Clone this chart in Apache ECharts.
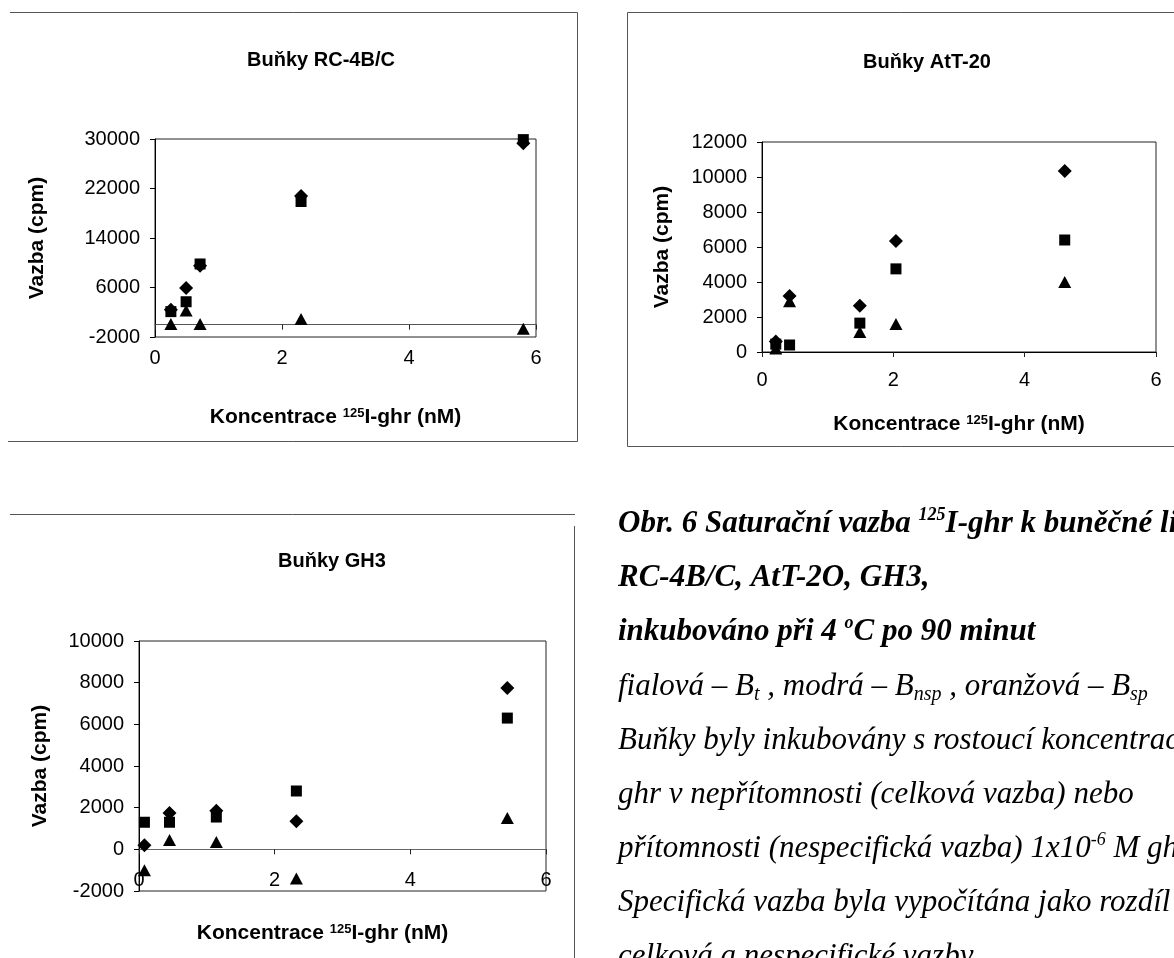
<!DOCTYPE html>
<html><head><meta charset="utf-8">
<script src="https://cdn.jsdelivr.net/npm/echarts@6/dist/echarts.min.js"></script>
<style>html,body{margin:0;padding:0;background:#fff}#c{width:1174px;height:958px}</style>
</head><body><div id="c"></div>
<script>
// ---- tick labels ----
const xTicks = [0, 2, 4, 6];
const rcTicksY = [-2000, 6000, 14000, 22000, 30000];
const attTicksY = [0, 2000, 4000, 6000, 8000, 10000, 12000];
const gh3TicksY = [-2000, 0, 2000, 4000, 6000, 8000, 10000];

// ---- RC-4B/C ----
const rcConc = [0.25, 0.49, 0.71, 2.3, 5.8];
const rcBt   = [2400, 5900, 9500, 20800, 29300];
const rcBnsp = [2100, 3700, 9800, 19900, 29900];
const rcBsp  = [100, 2300, 100, 900, -650];

// ---- AtT-20 ----
const attConc = [0.21, 0.42, 1.49, 2.04, 4.61];
const attBt   = [600, 3200, 2650, 6350, 10350];
const attBnsp = [450, 400, 1650, 4750, 6400];
const attBsp  = [200, 2900, 1150, 1600, 4000];

// ---- GH3 ----
const ghConc = [0.08, 0.45, 1.14, 2.32, 5.43];
const ghBt   = [200, 1750, 1850, 1350, 7750];
const ghBnsp = [1300, 1300, 1550, 2800, 6300];
const ghBsp  = [-1000, 450, 350, -1400, 1500];

const titles = ['Buňky RC-4B/C', 'Buňky AtT-20', 'Buňky GH3'];
const yName = 'Vazba (cpm)';
const xName = 'Koncentrace {s|125}I-ghr (nM)';

const SANS = 'Liberation Sans';
const SERIF = 'Liberation Serif';

function xAxis(gi, margin, inside, nameGap, padR, lineColor) {
  return {
    type: 'value', gridIndex: gi,
    min: xTicks[0], max: xTicks[xTicks.length - 1], interval: xTicks[1] - xTicks[0],
    axisLine: { show: true, onZero: true, lineStyle: { color: lineColor, width: 1 } },
    axisTick: { show: true, length: 5, lineStyle: { color: '#222' } },
    axisLabel: { margin: margin, inside: inside, fontFamily: SANS, fontSize: 20, color: '#000', formatter: v => String(v) },
    splitLine: { show: false },
    name: xName, nameLocation: 'middle', nameGap: nameGap,
    nameTextStyle: {
      fontFamily: SANS, fontWeight: 'bold', fontSize: 21, color: '#000',
      padding: [0, padR, 0, 0],
      rich: { s: { fontFamily: SANS, fontWeight: 'bold', fontSize: 13, color: '#000', verticalAlign: 'top', lineHeight: 13 } }
    }
  };
}
function yAxis(gi, ticks, nameGap) {
  return {
    type: 'value', gridIndex: gi,
    min: ticks[0], max: ticks[ticks.length - 1], interval: ticks[1] - ticks[0],
    axisLine: { show: true, lineStyle: { color: '#000', width: 1 } },
    axisTick: { show: true, length: 5, lineStyle: { color: '#000' } },
    axisLabel: { margin: 15, fontFamily: SANS, fontSize: 20, color: '#000', formatter: v => String(v) },
    splitLine: { show: false },
    name: yName, nameLocation: 'middle', nameGap: nameGap,
    nameTextStyle: { fontFamily: SANS, fontWeight: 'bold', fontSize: 21, color: '#000' }
  };
}
function pts(xs, ys) { return xs.map((x, i) => [x, ys[i]]); }
function trio(gi, xs, bt, bnsp, bsp) {
  const base = { type: 'scatter', xAxisIndex: gi, yAxisIndex: gi, itemStyle: { color: '#000', opacity: 1 }, silent: true };
  return [
    Object.assign({}, base, { name: 'Bt', symbol: 'diamond', symbolSize: 14, data: pts(xs, bt) }),
    Object.assign({}, base, { name: 'Bnsp', symbol: 'rect', symbolSize: 11, data: pts(xs, bnsp) }),
    Object.assign({}, base, { name: 'Bsp', symbol: 'triangle', symbolSize: [13, 12], data: pts(xs, bsp) })
  ];
}

function line(x1, y1, x2, y2) {
  return { type: 'line', silent: true, shape: { x1, y1, x2, y2 }, style: { stroke: '#555', lineWidth: 1 } };
}

const FS = 31;
const mainFont = { fontFamily: SERIF, fontStyle: 'italic', fontSize: FS, lineHeight: 36, fill: '#000', color: '#000' };
const boldFont = Object.assign({}, mainFont, { fontWeight: 'bold' });
const richBase = {
  m: mainFont,
  b: boldFont,
  sup: { fontFamily: SERIF, fontStyle: 'italic', fontSize: 18, lineHeight: 18, verticalAlign: 'top', fill: '#000', color: '#000' },
  bsup: { fontFamily: SERIF, fontStyle: 'italic', fontWeight: 'bold', fontSize: 18, lineHeight: 18, verticalAlign: 'top', fill: '#000', color: '#000' },
  sub: { fontFamily: SERIF, fontStyle: 'italic', fontSize: 20, lineHeight: 14, verticalAlign: 'bottom', fill: '#000', color: '#000' }
};
const captionLines = [
  '{b|Obr. 6 Saturační vazba }{bsup|125}{b|I-ghr k buněčné linii}',
  '{b|RC-4B/C, AtT-2O, GH3,}',
  '{b|inkubováno při 4 }{bsup|o}{b|C po 90 minut}',
  '{m|fialová – B}{sub|t}{m| , modrá – B}{sub|nsp}{m| , oranžová – B}{sub|sp}',
  '{m|Buňky byly inkubovány s rostoucí koncentrací}',
  '{m|ghr v nepřítomnosti (celková vazba) nebo}',
  '{m|přítomnosti (nespecifická vazba) 1x10}{sup|-6}{m| M ghr}',
  '{m|Specifická vazba byla vypočítána jako rozdíl}',
  '{m|celková a nespecifické vazby}'
];
const captionBaselines = [534, 588, 642, 697, 751, 805, 859, 913, 967];
const captionGraphics = captionLines.map((t, i) => ({
  type: 'text', silent: true, x: 618, y: captionBaselines[i] - 28,
  style: { text: t, rich: richBase, verticalAlign: 'top', align: 'left', fill: '#000', fontFamily: SERIF, fontSize: FS }
}));

const titleStyle = { fontFamily: SANS, fontWeight: 'bold', fontSize: 20, color: '#000' };
const gridBase = { show: true, borderColor: '#222', borderWidth: 1, containLabel: false, outerBoundsMode: 'none' };

const option = {
  backgroundColor: '#fff',
  animation: false,
  title: [
    { text: titles[0], left: 321, top: 50, textAlign: 'center', padding: 0, textStyle: titleStyle },
    { text: titles[1], left: 927, top: 52, textAlign: 'center', padding: 0, textStyle: titleStyle },
    { text: titles[2], left: 332, top: 551, textAlign: 'center', padding: 0, textStyle: titleStyle }
  ],
  grid: [
    Object.assign({ left: 155, top: 139, width: 381, height: 198 }, gridBase),
    Object.assign({ left: 762, top: 142, width: 394, height: 210 }, gridBase),
    Object.assign({ left: 139, top: 641, width: 407, height: 250 }, gridBase)
  ],
  xAxis: [
    xAxis(0, 11, false, 70, 20, '#555'),
    xAxis(1, 18, false, 62, 0, '#000'),
    xAxis(2, 1, true, 32, 40, '#666')
  ],
  yAxis: [
    yAxis(0, rcTicksY, 107),
    yAxis(1, attTicksY, 89),
    yAxis(2, gh3TicksY, 88)
  ],
  series: [].concat(
    trio(0, rcConc, rcBt, rcBnsp, rcBsp),
    trio(1, attConc, attBt, attBnsp, attBsp),
    trio(2, ghConc, ghBt, ghBnsp, ghBsp)
  ),
  graphic: [
    line(10, 12.5, 577.5, 12.5), line(577.5, 12.5, 577.5, 441.5), line(8, 441.5, 577.5, 441.5),
    line(627.5, 12.5, 1174, 12.5), line(627.5, 12.5, 627.5, 446.5), line(627.5, 446.5, 1174, 446.5),
    line(10, 514.5, 575, 514.5), line(574.5, 526, 574.5, 958)
  ].concat(captionGraphics)
};

const chart = echarts.init(document.getElementById('c'), null, { renderer: 'canvas' });
chart.setOption(option);
</script></body></html>
